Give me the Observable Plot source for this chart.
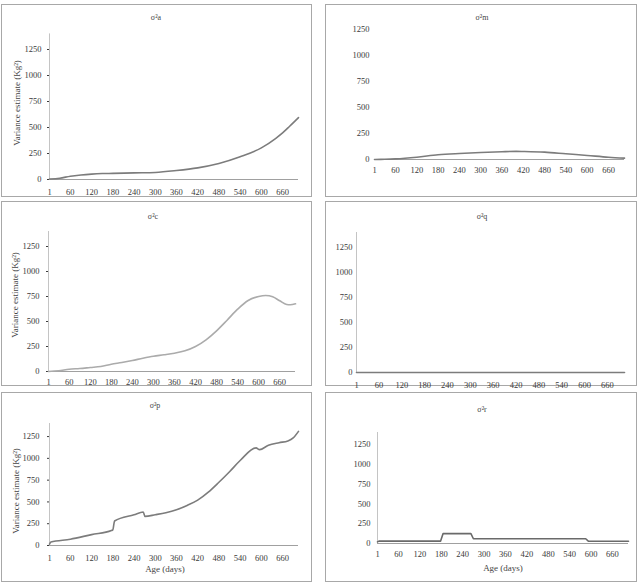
<!DOCTYPE html>
<html>
<head>
<meta charset="utf-8">
<script src="https://cdn.jsdelivr.net/npm/d3@7"></script>
<script src="https://cdn.jsdelivr.net/npm/@observablehq/plot@0.6"></script>
<style>
  html, body { margin: 0; padding: 0; background: #fff; }
  #root { position: relative; width: 641px; height: 582px; overflow: hidden; font-family: "Liberation Serif", serif; }
  .box { position: absolute; border: 1px solid #a8a8a8; box-sizing: border-box; }
  .plot { position: absolute; }
  .title { position: absolute; transform: translate(-50%, -50%); font-size: 8px; color: #444; white-space: nowrap; }
  .ylab { position: absolute; transform: translate(-50%, -50%) rotate(-90deg); font-size: 9px; color: #444; white-space: nowrap; }
  .xlab { position: absolute; transform: translate(-50%, -50%); font-size: 9px; color: #444; white-space: nowrap; }
</style>
</head>
<body>
<div id="root"></div>
<script>
// ---- Data ----
const xTicks = [1, 60, 120, 180, 240, 300, 360, 420, 480, 540, 600, 660];
const yTicks = [0, 250, 500, 750, 1000, 1250];
const panelTitles = ["σ²a", "σ²m", "σ²c", "σ²q", "σ²p", "σ²r"];
const yLabel = "Variance estimate (Kg²)";
const xLabel = "Age (days)";

const daysA = [1, 30, 60, 90, 120, 150, 180, 240, 300, 360, 420, 480, 540, 600, 640, 660, 680, 705];
const valsA = [5, 12, 32, 44, 52, 57, 59, 64, 68, 86, 112, 154, 218, 304, 394, 448, 512, 595];

const daysM = [1, 30, 60, 120, 180, 240, 300, 360, 400, 420, 480, 540, 600, 660, 705];
const valsM = [0, 2, 6, 22, 45, 58, 68, 75, 78, 77, 71, 55, 39, 22, 13];

const daysC = [1, 30, 60, 90, 120, 150, 180, 210, 240, 270, 300, 330, 360, 390, 420, 450, 480, 510, 540, 570, 600, 620, 640, 660, 680, 690, 705];
const valsC = [0, 7, 23, 30, 40, 50, 73, 90, 110, 133, 153, 167, 183, 207, 250, 317, 407, 513, 623, 710, 750, 760, 747, 707, 670, 667, 677];

const daysQ = [1, 705];
const valsQ = [0, 0];

const daysP = [1, 5, 60, 120, 176, 180, 185, 240, 266, 271, 300, 330, 360, 390, 420, 450, 480, 510, 540, 585, 595, 620, 650, 675, 690, 705];
const valsP = [15, 40, 72, 125, 172, 180, 281, 353, 384, 334, 353, 376, 410, 460, 520, 612, 726, 847, 975, 1120, 1100, 1150, 1180, 1200, 1235, 1310];

const daysR = [1, 5, 178, 185, 263, 270, 585, 593, 705];
const valsR = [20, 30, 30, 125, 125, 60, 60, 28, 28];

// ---- Layout ----
const panels = [
  {title: panelTitles[0], days: daysA, vals: valsA, color: "#7c7c7c", curve: "monotone-x",
   L: 1, T: 4, W: 311, H: 193, ml: 48, mr: 14, mt: 29.4, mb: 18, ytick: 2, ypad: 6, xpad: 9, yaxis: true,
   tx: 156, ty: 17, ylab: [17, 103]},
  {title: panelTitles[1], days: daysM, vals: valsM, color: "#7c7c7c", curve: "monotone-x",
   L: 325, T: 4, W: 312, H: 193, ml: 49, mr: 13, mt: 9.4, mb: 38, ytick: 0, ypad: 5, xpad: 7, yaxis: false,
   tx: 482, ty: 17},
  {title: panelTitles[2], days: daysC, vals: valsC, color: "#ababab", curve: "monotone-x",
   L: 1, T: 201, W: 311, H: 185, ml: 47, mr: 17, mt: 30, mb: 15, ytick: 2, ypad: 7, xpad: 7, yaxis: true,
   tx: 153, ty: 216, ylab: [15, 295]},
  {title: panelTitles[3], days: daysQ, vals: valsQ, color: "#7c7c7c", curve: "linear",
   L: 325, T: 201, W: 312, H: 185, ml: 31, mr: 13, mt: 31, mb: 14, ytick: 0, ypad: 4, xpad: 9, yaxis: true,
   tx: 482, ty: 216},
  {title: panelTitles[4], days: daysP, vals: valsP, color: "#7c7c7c", curve: "monotone-x",
   L: 1, T: 392, W: 311, H: 190, ml: 48, mr: 14, mt: 31, mb: 37, ytick: 2, ypad: 8, xpad: 9, yaxis: true,
   tx: 155, ty: 405, ylab: [16, 491], xlab: [165, 569]},
  {title: panelTitles[5], days: daysR, vals: valsR, color: "#6a6a6a", curve: "linear",
   L: 325, T: 392, W: 312, H: 190, ml: 52, mr: 9, mt: 40, mb: 39, ytick: 0, ypad: 7, xpad: 7, yaxis: true,
   tx: 482, ty: 409, xlab: [503, 568]}
];

const root = document.getElementById("root");

for (const p of panels) {
  const box = document.createElement("div");
  box.className = "box";
  Object.assign(box.style, {left: p.L + "px", top: p.T + "px", width: p.W + "px", height: p.H + "px"});
  root.appendChild(box);

  const rows = p.days.map((d, i) => ({day: d, value: p.vals[i]}));
  const marks = [];
  if (p.yaxis) marks.push(Plot.ruleX([1], {stroke: "#c4c4c4", strokeWidth: 1}));
  marks.push(Plot.ruleY([0], {stroke: "#a0a0a0", strokeWidth: 1}));
  marks.push(Plot.line(rows, {x: "day", y: "value", stroke: p.color, strokeWidth: 1.6, curve: p.curve}));

  const svg = Plot.plot({
    width: p.W,
    height: p.H,
    marginLeft: p.ml,
    marginRight: p.mr,
    marginTop: p.mt,
    marginBottom: p.mb,
    style: {fontFamily: "'Liberation Serif', serif", fontSize: "8.5px", color: "#3a3a3a", background: "transparent", overflow: "visible"},
    x: {domain: [1, 705], ticks: xTicks, tickSize: 0, tickPadding: p.xpad, tickFormat: d => String(d), label: null},
    y: {domain: [0, 1400], ticks: yTicks, tickSize: p.ytick, tickPadding: p.ypad, tickFormat: d => String(d), label: null},
    marks
  });
  const wrap = document.createElement("div");
  wrap.className = "plot";
  Object.assign(wrap.style, {left: p.L + "px", top: p.T + "px"});
  wrap.appendChild(svg);
  root.appendChild(wrap);

  const t = document.createElement("div");
  t.className = "title";
  t.textContent = p.title;
  Object.assign(t.style, {left: p.tx + "px", top: p.ty + "px"});
  root.appendChild(t);

  if (p.ylab) {
    const yl = document.createElement("div");
    yl.className = "ylab";
    yl.textContent = yLabel;
    Object.assign(yl.style, {left: p.ylab[0] + "px", top: p.ylab[1] + "px"});
    root.appendChild(yl);
  }
  if (p.xlab) {
    const xl = document.createElement("div");
    xl.className = "xlab";
    xl.textContent = xLabel;
    Object.assign(xl.style, {left: p.xlab[0] + "px", top: p.xlab[1] + "px"});
    root.appendChild(xl);
  }
}
</script>
</body>
</html>
